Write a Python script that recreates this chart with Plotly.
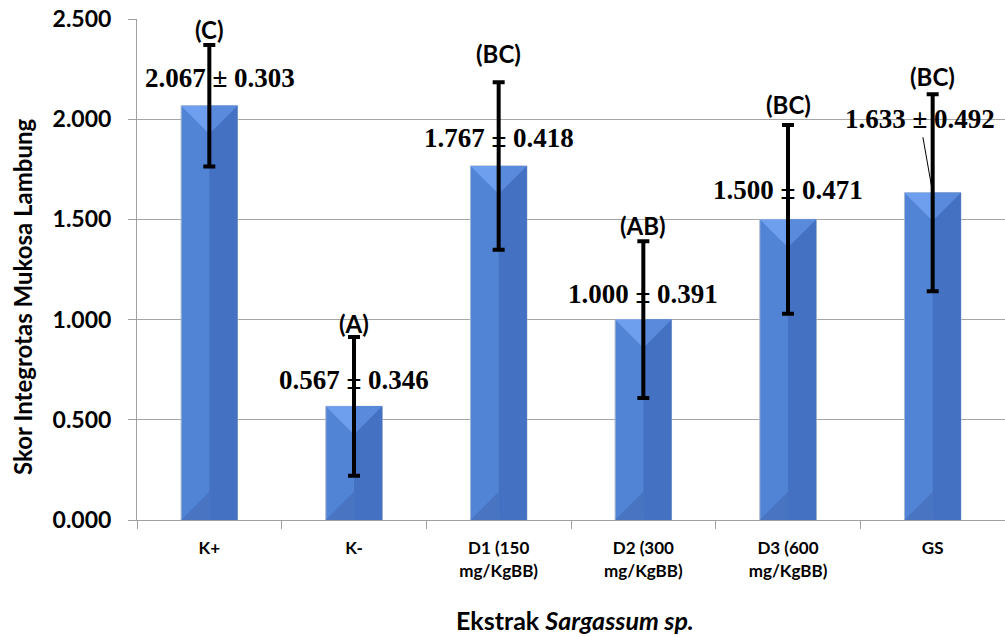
import plotly.graph_objects as go

# ---- data ----
categories = ["K+", "K-", "D1 (150<br>mg/KgBB)", "D2 (300<br>mg/KgBB)", "D3 (600<br>mg/KgBB)", "GS"]
means = [2.067, 0.567, 1.767, 1.000, 1.500, 1.633]
sds = [0.303, 0.346, 0.418, 0.391, 0.471, 0.492]
groups = ["(C)", "(A)", "(BC)", "(AB)", "(BC)", "(BC)"]
y_ticks = [0.0, 0.5, 1.0, 1.5, 2.0, 2.5]

# ---- layout constants / styles ----
W, H = 1005, 637
ML, MR, MT, MB = 137, 0, 19, 117
plot_w = W - ML - MR
plot_h = H - MT - MB
YMAX = 2.5
BAR_W = 0.39
px_per_x = plot_w / len(categories)
px_per_y = plot_h / YMAX
hw = BAR_W / 2
depth = hw * px_per_x / px_per_y

C_LEFT = "#5284D6"
C_RIGHT = "#4471C2"
C_TOP_L = "#6E9FEE"
C_TOP_R = "#5A8ADB"
C_BOT = "#4874C2"
SANS = "Lato, 'Open Sans', sans-serif"
SERIF = "'Liberation Serif', 'Times New Roman', serif"

group_yshift = [16, 14, 29, 16, 21, 18]
value_xshift = [11, 0, 0, 0, 0, 0]
value_yshift = [28, 26, 28, 26, 29, 28]

xs = list(range(len(categories)))

fig = go.Figure()
fig.add_trace(go.Bar(
    x=xs, y=means, width=BAR_W,
    marker=dict(color=C_LEFT, line=dict(color="#A8B8D0", width=1)),
    hoverinfo="skip", showlegend=False,
))


def poly_trace(polys, color):
    px_, py_ = [], []
    for p in polys:
        for (a, b) in p + [p[0]]:
            px_.append(a)
            py_.append(b)
        px_.append(None)
        py_.append(None)
    return go.Scatter(x=px_, y=py_, mode="lines", fill="toself", fillcolor=color,
                      line=dict(width=0, color=color), hoverinfo="skip", showlegend=False)


right_polys, topl, topr, bot = [], [], [], []
for x, v in zip(xs, means):
    d = min(depth, v / 2)
    right_polys.append([(x, 0), (x + hw, 0), (x + hw, v), (x, v)])
    topl.append([(x - hw, v), (x, v), (x, v - d)])
    topr.append([(x, v), (x + hw, v), (x, v - d)])
    bot.append([(x - hw, 0), (x, 0), (x, d)])

fig.add_trace(poly_trace(right_polys, C_RIGHT))
fig.add_trace(poly_trace(bot, C_BOT))
fig.add_trace(poly_trace(topl, C_TOP_L))
fig.add_trace(poly_trace(topr, C_TOP_R))

# error bars on top
fig.add_trace(go.Scatter(
    x=xs, y=means, mode="markers", marker=dict(size=1, color="rgba(0,0,0,0)"),
    error_y=dict(type="data", array=sds, visible=True, color="black", thickness=4, width=6),
    hoverinfo="skip", showlegend=False,
))

annotations = []
for i, (x, m, s, g) in enumerate(zip(xs, means, sds, groups)):
    annotations.append(dict(
        x=x, y=m + s, xref="x", yref="y", text=f"<b>{g}</b>", showarrow=False,
        yshift=group_yshift[i], font=dict(family=SANS, size=24, color="black"),
        yanchor="middle"))
    label = f"<b>{m:.3f} ± {s:.3f}</b>"
    if i == len(xs) - 1:
        annotations.append(dict(
            x=x, y=m, xref="x", yref="y", text=label, showarrow=True,
            ax=-13, ay=-74, arrowhead=0, arrowwidth=1, arrowcolor="black",
            standoff=5, startstandoff=2,
            font=dict(family=SERIF, size=27, color="black")))
    else:
        annotations.append(dict(
            x=x, y=m, xref="x", yref="y", text=label, showarrow=False,
            xshift=value_xshift[i], yshift=value_yshift[i], yanchor="middle",
            font=dict(family=SERIF, size=27, color="black")))

annotations.append(dict(
    x=(22 - ML) / plot_w, y=(plot_h - (297 - MT)) / plot_h, xref="paper", yref="paper",
    text="<b>Skor Integrotas Mukosa Lambung</b>", textangle=-90, showarrow=False,
    xanchor="center", yanchor="middle", font=dict(family=SANS, size=24, color="black")))
annotations.append(dict(
    x=(575 - ML) / plot_w, y=-(620 - MT - plot_h) / plot_h, xref="paper", yref="paper",
    text="<b>Ekstrak <i>Sargassum sp.</i></b>", showarrow=False,
    xanchor="center", yanchor="middle", font=dict(family=SANS, size=25, color="black")))

fig.update_layout(
    width=W, height=H, autosize=False,
    margin=dict(l=ML, r=MR, t=MT, b=MB, pad=0),
    plot_bgcolor="white", paper_bgcolor="white",
    barmode="overlay", showlegend=False,
    annotations=annotations,
    xaxis=dict(
        range=[-0.5, len(categories) - 0.5], tickmode="array", tickvals=xs,
        ticktext=[f"<b>{c}</b>" for c in categories], ticks="", showgrid=False,
        showline=True, linecolor="#A0A0A0", linewidth=1, zeroline=False,
        tickfont=dict(family=SANS, size=17, color="black"),
        ticklabelstandoff=13,
        minor=dict(tick0=-0.5, dtick=1, ticks="outside", ticklen=8, tickcolor="#A0A0A0", showgrid=False),
    ),
    yaxis=dict(
        range=[0, YMAX], tickmode="array", tickvals=y_ticks,
        ticktext=[f"<b>{t:.3f}</b>" for t in y_ticks],
        showgrid=True, gridcolor="#A6A6A6", gridwidth=1,
        showline=True, linecolor="#A0A0A0", linewidth=1, zeroline=False,
        ticks="outside", ticklen=8, tickcolor="#A0A0A0",
        tickfont=dict(family=SANS, size=23, color="black"),
        ticklabelstandoff=12,
    ),
)

fig.write_html("out.html", config={"displayModeBar": False},
               post_script="document.body.style.margin='0';document.body.style.overflow='hidden';")
